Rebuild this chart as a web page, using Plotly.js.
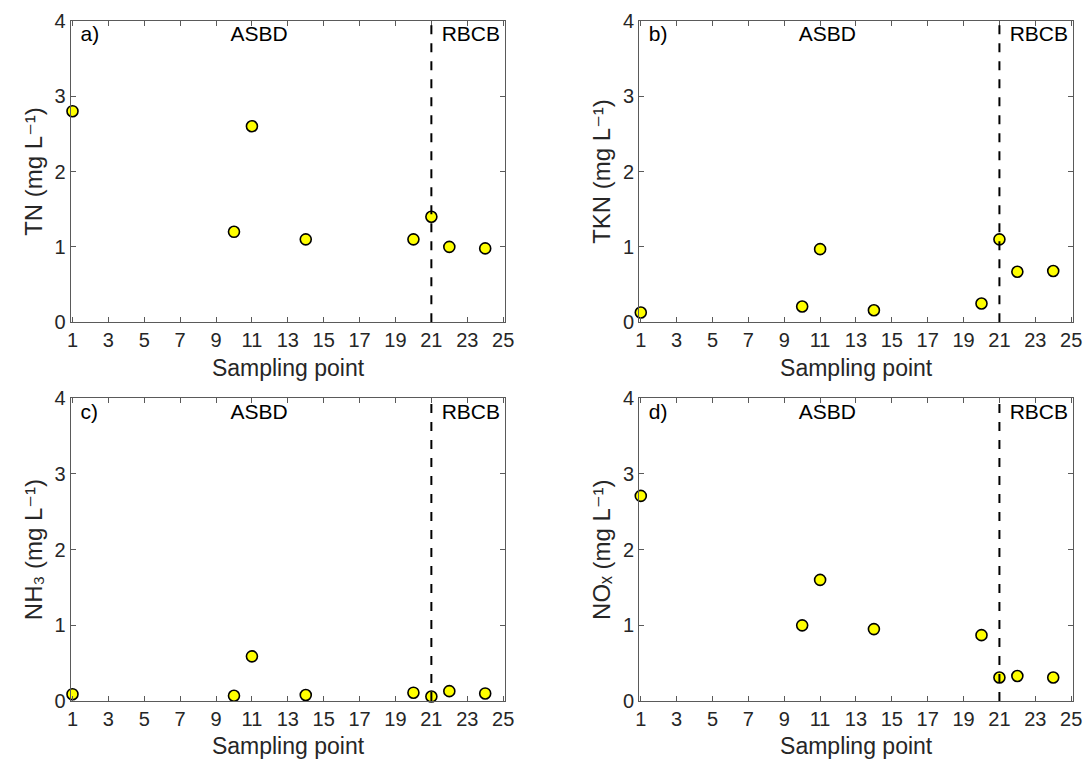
<!DOCTYPE html>
<html>
<head>
<meta charset="utf-8">
<script src="https://cdn.plot.ly/plotly-3.0.1.min.js"></script>
<style>html,body{margin:0;padding:0;background:#fff;}#chart{width:1085px;height:759px;}</style>
</head>
<body>
<div id="chart"></div>
<script>
// Sampling points (x) shared by all panels
const samplingPoints = [1, 10, 11, 14, 20, 21, 22, 24];
// Concentrations (mg L^-1)
const tnValues   = [2.80, 1.20, 2.60, 1.10, 1.10, 1.40, 1.00, 0.98];
const tknValues  = [0.13, 0.21, 0.97, 0.16, 0.25, 1.10, 0.67, 0.68];
const nh3Values  = [0.09, 0.07, 0.59, 0.08, 0.11, 0.06, 0.13, 0.10];
const noxValues  = [2.71, 1.00, 1.60, 0.95, 0.87, 0.31, 0.33, 0.31];
// Labels
const panelLabels = ["a)", "b)", "c)", "d)"];
const yTitles = [
  "TN (mg L\u207B\u00B9)",
  "TKN (mg L\u207B\u00B9)",
  "NH\u2083 (mg L\u207B\u00B9)",
  "NO\u2093 (mg L\u207B\u00B9)"
];
const xTickVals = [1, 3, 5, 7, 9, 11, 13, 15, 17, 19, 21, 23, 25];
const yTickVals = [0, 1, 2, 3, 4];
const regionLabels = ["ASBD", "RBCB"];
const regionLabelX = [11.4, 23.2];
const boundaryX = 21;

const series = [tnValues, tknValues, nh3Values, noxValues];

const W = 1085, H = 759;
const xDomains = [[70.7 / W, 505.3 / W], [639 / W, 1073.3 / W]];
const yDomains = [[1 - 322.3 / H, 1 - 20.7 / H], [1 - 701 / H, 1 - 398.3 / H]];

const textColor = "#262626";
const axisColor = "#5a5a5a";
const font = "Liberation Sans, Arial, DejaVu Sans, sans-serif";

const traces = [];
const layout = {
  width: W, height: H,
  margin: {l: 0, r: 0, t: 0, b: 0},
  paper_bgcolor: "#ffffff",
  plot_bgcolor: "#ffffff",
  showlegend: false,
  font: {family: font, color: textColor, size: 20},
  shapes: []
};

for (let i = 0; i < 4; i++) {
  const col = i % 2, row = Math.floor(i / 2);
  const n = i + 1;
  const xa = n === 1 ? "x" : "x" + n;
  const ya = n === 1 ? "y" : "y" + n;
  const xKey = n === 1 ? "xaxis" : "xaxis" + n;
  const yKey = n === 1 ? "yaxis" : "yaxis" + n;

  traces.push({
    type: "scatter", mode: "markers",
    x: samplingPoints, y: series[i],
    xaxis: xa, yaxis: ya,
    marker: {size: 11, color: "#ffff00", line: {color: "#000000", width: 1.6}},
    cliponaxis: false,
    hoverinfo: "x+y"
  });

  // panel letter and region names as text marks
  traces.push({
    type: "scatter", mode: "text",
    x: [1.45, regionLabelX[0], regionLabelX[1]],
    y: [3.80, 3.80, 3.80],
    text: [panelLabels[i], regionLabels[0], regionLabels[1]],
    textposition: ["middle right", "middle center", "middle center"],
    textfont: {family: font, size: 21, color: "#000000"},
    xaxis: xa, yaxis: ya,
    cliponaxis: false,
    hoverinfo: "skip"
  });

  layout[xKey] = {
    domain: xDomains[col],
    anchor: ya,
    range: [0.9, 25.12],
    tickmode: "array", tickvals: xTickVals,
    ticks: "inside", ticklen: 5, tickwidth: 1, tickcolor: axisColor,
    showline: true, linecolor: axisColor, linewidth: 1, mirror: "ticks",
    showgrid: false, zeroline: false,
    tickfont: {family: font, size: 20, color: textColor},
    title: {text: "Sampling point", font: {family: font, size: 23, color: textColor}, standoff: 9},
    automargin: false
  };
  layout[yKey] = {
    domain: yDomains[row],
    anchor: xa,
    range: [0, 4],
    tickmode: "array", tickvals: yTickVals,
    ticks: "inside", ticklen: 5, tickwidth: 1, tickcolor: axisColor,
    showline: true, linecolor: axisColor, linewidth: 1, mirror: "ticks",
    showgrid: false, zeroline: false,
    tickfont: {family: font, size: 20, color: textColor},
    title: {text: yTitles[i], font: {family: font, size: 24, color: textColor}, standoff: 5},
    automargin: false
  };

  layout.shapes.push({
    type: "line", xref: xa, yref: ya,
    x0: boundaryX, x1: boundaryX, y0: 0, y1: 4,
    line: {color: "#000000", width: 2, dash: "dash"}
  });
}

Plotly.newPlot("chart", traces, layout, {displayModeBar: false});
</script>
</body>
</html>
